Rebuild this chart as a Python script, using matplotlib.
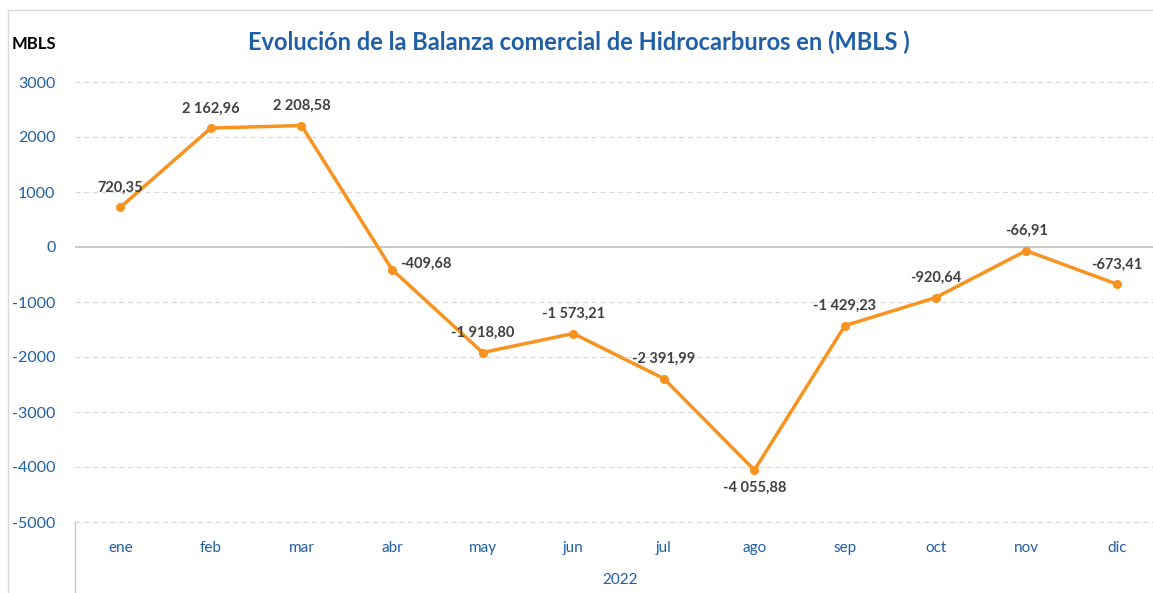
import matplotlib
matplotlib.use("Agg")
import matplotlib.pyplot as plt
from matplotlib.lines import Line2D

plt.rcParams['font.family'] = ['Lato', 'DejaVu Sans']

# data
meses = ["ene", "feb", "mar", "abr", "may", "jun", "jul", "ago", "sep", "oct", "nov", "dic"]
balanza = [720.35, 2162.96, 2208.58, -409.68, -1918.80, -1573.21, -2391.99,
           -4055.88, -1429.23, -920.64, -66.91, -673.41]
anio = "2022"
y_ticks = [3000, 2000, 1000, 0, -1000, -2000, -3000, -4000, -5000]
# where each data label sits relative to its point
label_pos = ["above", "above", "above", "right", "above", "above", "above",
             "below", "above", "above", "above", "above"]

naranja = "#F7931E"
azul = "#1F5FA6"
gris_txt = "#404040"


def fmt(v):
    s = "{:,.2f}".format(v)
    return s.replace(",", " ").replace(".", ",")


fig = plt.figure(figsize=(11.53, 5.93), dpi=100)
ax = fig.add_axes([75 / 1153, 71 / 593, 1087 / 1153, 440 / 593])

x = list(range(len(meses)))
ax.plot(x, balanza, color=naranja, lw=2.5, marker="o", ms=5.5, zorder=3,
        solid_joinstyle="round")

for xi, v, pos in zip(x, balanza, label_pos):
    if pos == "above":
        ax.annotate(fmt(v), (xi, v), xytext=(0, 14), textcoords="offset points",
                    ha="center", va="center", fontsize=10.5, fontweight="bold", color=gris_txt)
    elif pos == "below":
        ax.annotate(fmt(v), (xi, v), xytext=(0, -13), textcoords="offset points",
                    ha="center", va="center", fontsize=10.5, fontweight="bold", color=gris_txt)
    else:
        ax.annotate(fmt(v), (xi, v), xytext=(6, 4), textcoords="offset points",
                    ha="left", va="center", fontsize=10.5, fontweight="bold", color=gris_txt)

ax.set_xlim(-0.5, len(meses) - 0.5)
ax.set_ylim(-5000, 3000)
ax.set_yticks(y_ticks)
ax.set_yticklabels([str(t) for t in y_ticks])
ax.set_xticks(x)
ax.set_xticklabels(meses)
ax.tick_params(axis="y", length=0, pad=14, labelsize=11.5, labelcolor=azul)
ax.tick_params(axis="x", length=0, pad=14, labelsize=11, labelcolor=azul)

for t in y_ticks:
    if t != 0:
        ax.axhline(t, color="#D9D9D9", lw=0.9, ls=(0, (4, 3)), zorder=1, clip_on=False)
ax.axhline(0, color="#BFBFBF", lw=1.2, zorder=2)

for s in ax.spines.values():
    s.set_visible(False)

# multi-level category separator + year
fig.add_artist(Line2D([75 / 1153, 75 / 1153], [0, 71 / 593], color="#C8C8C8", lw=1.0))
fig.text(620 / 1153, 1 - 580 / 593, anio, ha="center", va="center", fontsize=11, color=azul)

# chart frame
fig.add_artist(Line2D([8 / 1153, 1], [1 - 10 / 593, 1 - 10 / 593], color="#D9D9D9", lw=1.0))
fig.add_artist(Line2D([8 / 1153, 8 / 1153], [0, 1 - 10 / 593], color="#D9D9D9", lw=1.0))

fig.text(579 / 1153, 1 - 42 / 593, "Evolución de la Balanza comercial de Hidrocarburos en (MBLS )",
         ha="center", va="center", fontsize=17, fontweight="bold", color=azul)
fig.text(12 / 1153, 1 - 44 / 593, "MBLS", ha="left", va="center", fontsize=12,
         fontweight="bold", color="black")

fig.savefig("out.png", dpi=100)
